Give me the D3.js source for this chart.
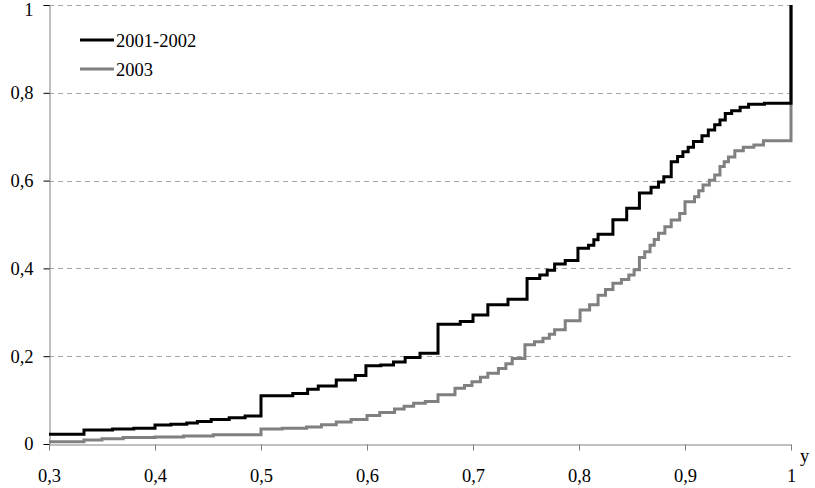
<!DOCTYPE html>
<html>
<head>
<meta charset="utf-8">
<script src="https://cdn.jsdelivr.net/npm/d3@7"></script>
<style>
  body { margin: 0; background: #fff; }
</style>
</head>
<body>
<div id="chart"></div>
<script>
// Data: [share, cumulative]
const xTicks = [0.3, 0.4, 0.5, 0.6, 0.7, 0.8, 0.9, 1];
const yTicks = [0, 0.2, 0.4, 0.6, 0.8, 1];
const seriesNames = ["2001-2002", "2003"];

const steps2001 = [
  [0.3, 0.022], [0.333, 0.032], [0.36, 0.034], [0.38, 0.036], [0.4, 0.043], [0.415, 0.045],
  [0.43, 0.048], [0.44, 0.051], [0.453, 0.056], [0.47, 0.060], [0.485, 0.064], [0.5, 0.11],
  [0.53, 0.115], [0.544, 0.125], [0.554, 0.132], [0.571, 0.146], [0.589, 0.156], [0.599, 0.178],
  [0.613, 0.180], [0.625, 0.187], [0.636, 0.197], [0.650, 0.207], [0.667, 0.273], [0.688, 0.279],
  [0.700, 0.294], [0.714, 0.317], [0.733, 0.330], [0.751, 0.377], [0.763, 0.385], [0.770, 0.396],
  [0.777, 0.410], [0.787, 0.418], [0.799, 0.446], [0.809, 0.453], [0.814, 0.465], [0.818, 0.478],
  [0.832, 0.511], [0.845, 0.537], [0.857, 0.572], [0.868, 0.585], [0.875, 0.597], [0.880, 0.609],
  [0.887, 0.643], [0.893, 0.655], [0.898, 0.666], [0.903, 0.676], [0.908, 0.689], [0.916, 0.702],
  [0.922, 0.715], [0.928, 0.727], [0.933, 0.738], [0.938, 0.753], [0.944, 0.759], [0.952, 0.767],
  [0.960, 0.774], [0.975, 0.776], [1, 1]
];

const steps2003 = [
  [0.3, 0.005], [0.333, 0.009], [0.35, 0.012], [0.37, 0.015], [0.4, 0.016], [0.427, 0.018],
  [0.455, 0.021], [0.5, 0.034], [0.52, 0.036], [0.543, 0.039], [0.557, 0.044], [0.571, 0.050],
  [0.585, 0.056], [0.600, 0.065], [0.612, 0.072], [0.626, 0.080], [0.635, 0.086], [0.644, 0.093],
  [0.655, 0.097], [0.667, 0.112], [0.683, 0.127], [0.692, 0.133], [0.699, 0.142], [0.707, 0.152],
  [0.714, 0.161], [0.724, 0.172], [0.731, 0.183], [0.737, 0.195], [0.749, 0.226], [0.758, 0.233],
  [0.766, 0.241], [0.772, 0.250], [0.777, 0.260], [0.787, 0.281], [0.801, 0.305], [0.810, 0.317],
  [0.818, 0.339], [0.825, 0.352], [0.832, 0.366], [0.840, 0.375], [0.847, 0.385], [0.852, 0.397],
  [0.857, 0.425], [0.862, 0.438], [0.867, 0.453], [0.871, 0.466], [0.875, 0.480], [0.881, 0.495],
  [0.887, 0.510], [0.895, 0.525], [0.900, 0.552], [0.909, 0.563], [0.913, 0.577], [0.917, 0.590],
  [0.923, 0.601], [0.928, 0.613], [0.933, 0.632], [0.937, 0.643], [0.941, 0.654], [0.947, 0.668],
  [0.955, 0.676], [0.965, 0.681], [0.974, 0.691], [1, 1]
];

const colors = ["#000000", "#808080"];
const FONT = "'Times New Roman', 'Liberation Serif', 'DejaVu Serif', serif";
const FS = 18.5;

// Layout
const W = 815, H = 488;
const plot = { left: 49, right: 791, top: 5, bottom: 444 };

const svg = d3.select("#chart")
    .append("svg")
    .attr("width", W)
    .attr("height", H)
    .attr("font-family", FONT)
    .attr("font-size", FS);

const x = d3.scaleLinear().domain([0.3, 1]).range([plot.left, plot.right]);
const y = d3.scaleLinear().domain([0, 1]).range([plot.bottom, plot.top]);
const fmt = d => String(d).replace(".", ",");

// Dashed gridlines
svg.append("g")
    .selectAll("line")
    .data(yTicks.filter(d => d > 0))
    .join("line")
    .attr("x1", plot.left)
    .attr("x2", plot.right)
    .attr("y1", d => Math.round(y(d)) + 0.5)
    .attr("y2", d => Math.round(y(d)) + 0.5)
    .attr("stroke", "#a6a6a6")
    .attr("stroke-dasharray", "5,4");

// Y axis
const yAxis = svg.append("g")
    .attr("transform", `translate(${plot.left + 0.5},0)`)
    .call(d3.axisLeft(y).tickValues(yTicks).tickFormat(fmt).tickSize(6).tickPadding(10))
    .attr("font-family", FONT)
    .attr("font-size", FS);
yAxis.select(".domain").attr("stroke", "#808080");
yAxis.selectAll(".tick line").attr("stroke", "#000");
yAxis.selectAll("text")
    .attr("fill", "#000")
    .attr("dy", d => d === 1 ? "0.55em" : "0.32em");

// X axis
const xAxis = svg.append("g")
    .attr("transform", `translate(0,${plot.bottom + 0.5})`)
    .call(d3.axisBottom(x).tickValues(xTicks).tickFormat(fmt).tickSize(6).tickSizeOuter(0).tickPadding(18))
    .attr("font-family", FONT)
    .attr("font-size", FS);
xAxis.select(".domain").attr("stroke", "#808080");
xAxis.selectAll(".tick line").attr("stroke", "#808080");
xAxis.selectAll("text").attr("fill", "#000");

svg.append("text")
    .attr("x", 800)
    .attr("y", 462)
    .text("y");

// Step lines
const line = d3.line()
    .x(d => x(d[0]))
    .y(d => y(d[1]))
    .curve(d3.curveStepAfter);

[steps2003, steps2001].forEach((s, i) => {
    svg.append("path")
        .datum(s)
        .attr("fill", "none")
        .attr("stroke", colors[1 - i])
        .attr("stroke-width", 3)
        .attr("d", line);
});

// Legend
const legend = svg.append("g");
seriesNames.forEach((name, i) => {
    const ly = 40 + i * 29;
    legend.append("line")
        .attr("x1", 80).attr("x2", 114)
        .attr("y1", ly).attr("y2", ly)
        .attr("stroke", colors[i])
        .attr("stroke-width", 3);
    legend.append("text")
        .attr("x", 116)
        .attr("y", ly + 7)
        .text(name);
});
</script>
</body>
</html>
